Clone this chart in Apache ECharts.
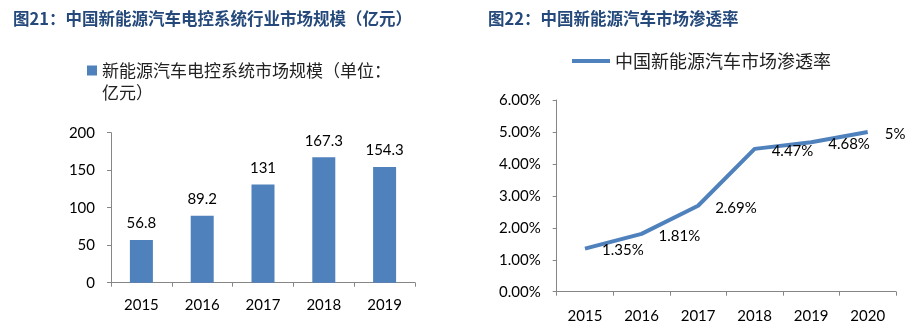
<!DOCTYPE html>
<html><head><meta charset="utf-8">
<script src="https://cdn.jsdelivr.net/npm/echarts@6/dist/echarts.min.js"></script>
<style>html,body{margin:0;padding:0;background:#fff}#c{width:919px;height:332px}</style>
</head><body><div id="c"></div>
<script>
const barYears = ['2015','2016','2017','2018','2019'];
const barValues = [56.8, 89.2, 131, 167.3, 154.3];
const lineYears = ['2015','2016','2017','2018','2019','2020'];
const lineValues = [1.35, 1.81, 2.69, 4.47, 4.68, 5];
const barName = '新能源汽车电控系统市场规模（单位：\n亿元）';
const lineName = '中国新能源汽车市场渗透率';
const title1 = '图21：中国新能源汽车电控系统行业市场规模（亿元）';
const title2 = '图22：中国新能源汽车市场渗透率';

const numFont = 'Lato, "Noto Sans", sans-serif';
const cjkFont = '"Noto Sans CJK SC", sans-serif';
const axisColor = '#868686';
const chart = echarts.init(document.getElementById('c'));
const axisCommon = {
  axisLine: {show: true, lineStyle: {color: axisColor, width: 1}},
  axisTick: {show: true, length: 4, lineStyle: {color: axisColor}},
  splitLine: {show: false}
};
chart.setOption({
  animation: false,
  title: [
    {text: title1, left: 8, top: 5, textStyle: {fontFamily: cjkFont, fontSize: 16.5, fontWeight: 'bold', color: '#24497A'}},
    {text: title2, left: 483, top: 5, textStyle: {fontFamily: cjkFont, fontSize: 16.5, fontWeight: 'bold', color: '#24497A'}},
    {text: barName.split('\n')[1], left: 102, top: 84, padding: 0, textStyle: {fontFamily: cjkFont, fontSize: 17, fontWeight: 'normal', color: '#222'}}
  ],
  legend: [
    {data: [{name: barName, icon: 'rect'}], left: 87, top: 62, padding: 0, itemWidth: 10, itemHeight: 10,
     formatter: n => n.split('\n')[0],
     textStyle: {fontFamily: cjkFont, fontSize: 17, color: '#222'}},
    {data: [{name: lineName, icon: 'rect'}], left: 572, top: 52, padding: 0, itemWidth: 38, itemHeight: 4,
     textStyle: {fontFamily: cjkFont, fontSize: 18, color: '#222'}}
  ],
  grid: [
    {left: 111, right: 504, top: 132.7, bottom: 49.3},
    {left: 556.7, right: 23, top: 100, bottom: 40.3}
  ],
  xAxis: [
    Object.assign({type: 'category', gridIndex: 0, data: barYears, boundaryGap: true,
      axisLabel: {margin: 15, fontFamily: numFont, fontSize: 15, color: '#000'}}, axisCommon),
    Object.assign({type: 'category', gridIndex: 1, data: lineYears, boundaryGap: true,
      axisLabel: {margin: 17, fontFamily: numFont, fontSize: 15, color: '#000'}}, axisCommon)
  ],
  yAxis: [
    Object.assign({type: 'value', gridIndex: 0, min: 0, max: 200, interval: 50,
      axisLabel: {margin: 16, fontFamily: numFont, fontSize: 15, color: '#000'}}, axisCommon),
    Object.assign({type: 'value', gridIndex: 1, min: 0, max: 6, interval: 1,
      axisLabel: {margin: 16, fontFamily: numFont, fontSize: 15, color: '#000', formatter: v => v.toFixed(2) + '%'}}, axisCommon)
  ],
  series: [
    {name: barName, type: 'bar', xAxisIndex: 0, yAxisIndex: 0, data: barValues, barWidth: 23,
     itemStyle: {color: '#4F81BD'},
     label: {show: true, position: 'top', distance: 9, fontFamily: numFont, fontSize: 15, color: '#000'}},
    {name: lineName, type: 'line', xAxisIndex: 1, yAxisIndex: 1, data: lineValues,
     showSymbol: true, symbol: 'circle', symbolSize: 0.1, lineStyle: {color: '#4F81BD', width: 4}, itemStyle: {color: '#4F81BD'},
     label: {show: true, position: 'right', distance: 17, offset: [0, 2], fontFamily: numFont, fontSize: 15, color: '#000',
       formatter: p => p.value + '%'}}
  ]
});
</script></body></html>
